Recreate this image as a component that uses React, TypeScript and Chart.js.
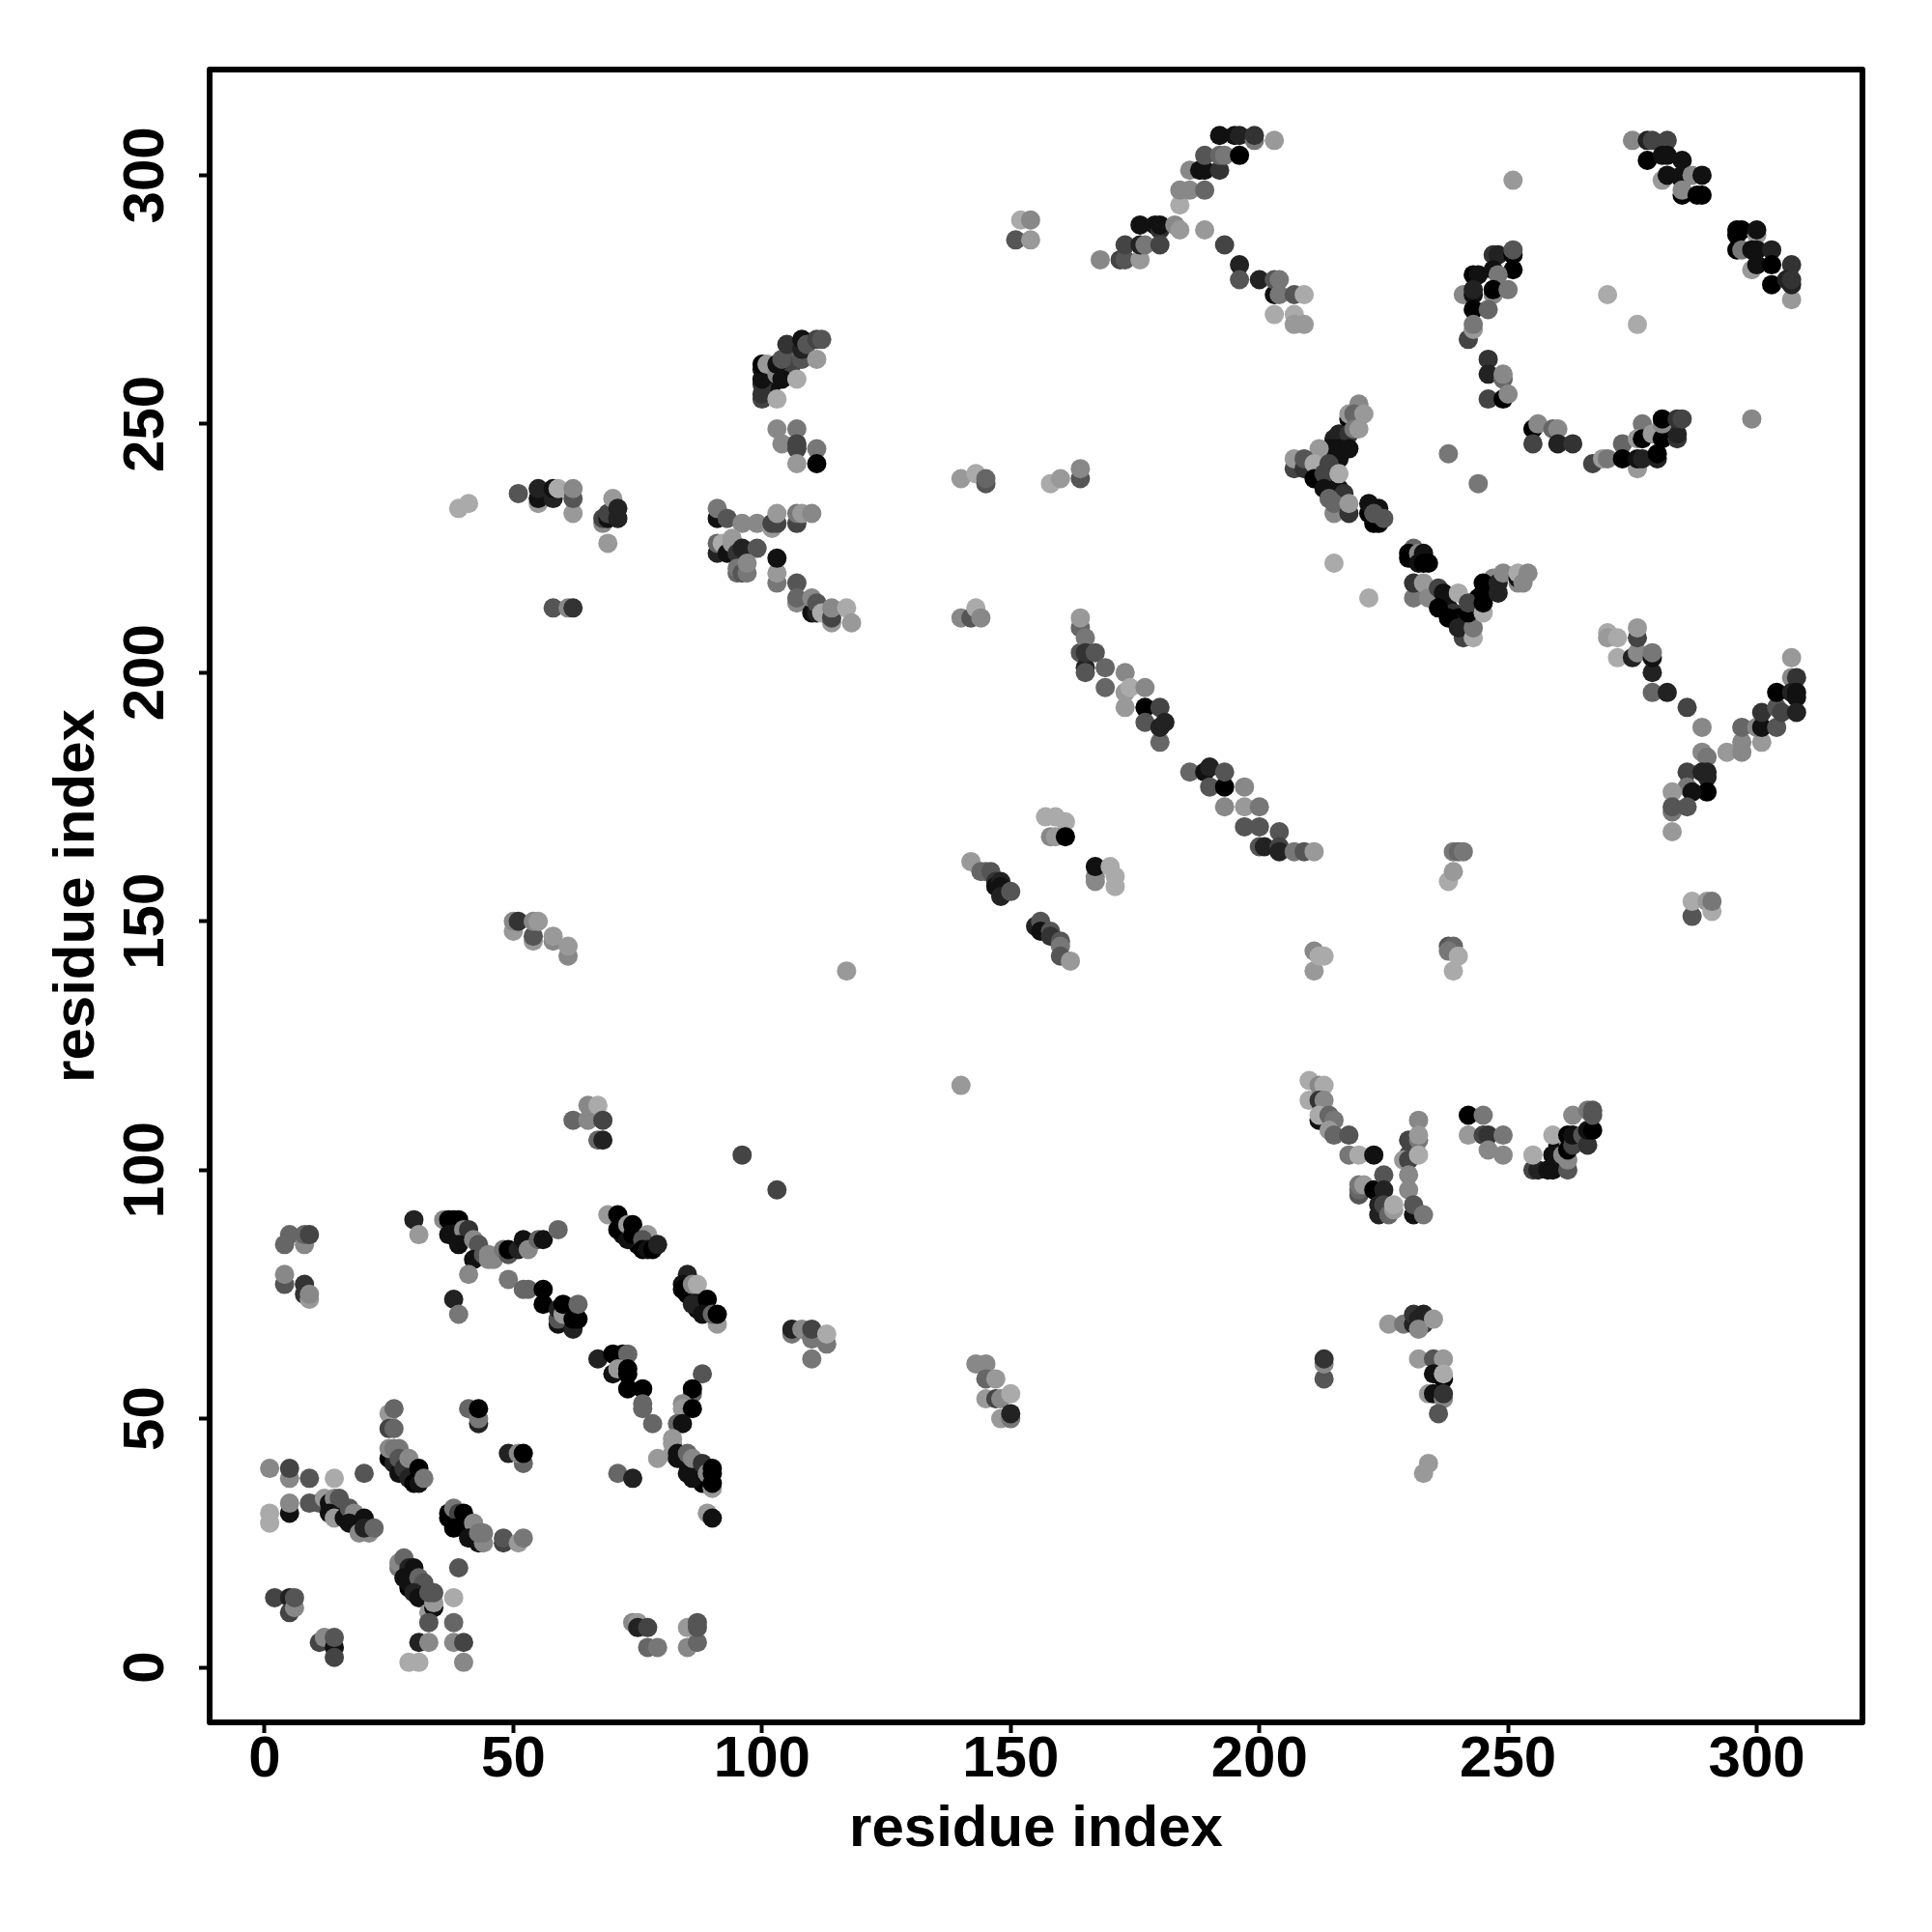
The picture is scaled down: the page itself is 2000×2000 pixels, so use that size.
import React, { useEffect, useRef } from "react";
import { Chart, registerables } from "chart.js";

Chart.register(...registerables);

// Each contact: [residue x, residue y, shade step 0 (black) .. 10 (light grey)]
type Contact = [number, number, number];

const tickValues = [0, 50, 100, 150, 200, 250, 300];

const denseCores: Contact[] = [
  [100,261,1],[101,259,0],[102,258,1],[102,260,0],[104,261,2],[105,262,2],[106,264,1],[106,262,4],[107,265,5],[108,264,6],
  [238,213,1],[239,212,3],[240,211,0],[241,210,1],[243,213,1],[244,215,0],[246,217,1],[247,219,8],
  [212,241,1],[213,239,0],[214,238,1],[215,237,1],[216,243,1],[217,246,1],[215,247,2],
  [260,101,9],[261,102,1],[260,105,1],[262,106,8],
  [85,41,1],[86,40,1],[87,39,0],[88,39,1],[88,37,0],
  [39,29,1],[40,28,1],[42,27,0],
  [85,75,0],[87,74,1],[88,73,1],[87,72,0],
  [15,32,0],[16,31,1],[18,29,0],[19,29,1],
  [28,19,0],[29,16,0],[30,16,1],[31,15,0],[32,14,1],
  [26,42,0],[27,41,1],[28,39,0],[30,38,0],
  [72,87,1],[75,85,0],[76,85,1],
];

const lowerLeftA: Contact[] = [
  [1,40,8],[5,38,8],[5,40,4],[9,38,5],[14,38,10],[20,39,5],[1,29,10],[1,31,10],[5,31,1],[5,33,8],[9,33,5],[11,33,5],
  [12,34,9],[13,33,1],[14,34,8],[15,34,5],[13,31,1],[14,30,9],[16,30,1],[17,32,5],[18,31,8],[17,29,1],[19,27,8],[21,27,8],[20,30,1],[20,28,2],[22,28,6],
  [2,14,4],[5,14,2],[5,11,4],[6,12,8],[6,14,5],[11,5,4],[12,6,8],[14,4,1],[14,6,5],[14,2,4],
  [25,51,9],[26,52,6],[25,48,4],[26,48,6],[25,42,0],[26,41,2],[27,39,1],[25,44,8],[26,44,7],[27,44,7],[27,42,5],[28,40,3],[29,38,2],[30,37,0],[31,37,1],[29,42,8],[31,40,0],[32,38,7],
  [41,52,6],[43,49,2],[43,50,7],[43,52,0],[49,43,2],[52,41,6],[51,43,8],[52,43,0],
  [37,30,0],[37,31,0],[38,32,7],[39,31,4],[38,28,0],[40,31,0],[41,29,0],[42,29,8],[41,26,1],[43,25,1],[44,25,8],[43,27,7],[44,27,7],[48,25,4],[48,26,5],[51,25,9],[52,26,7],
];

const lowerLeftB: Contact[] = [
  [27,20,7],[27,21,8],[28,22,6],[29,20,2],[30,20,1],[28,18,1],[29,17,1],[31,18,6],[32,17,5],[30,15,2],[31,14,1],[33,11,9],[34,12,1],[34,13,9],[33,15,5],[34,15,5],[33,9,5],
  [38,14,10],[38,9,6],[38,5,8],[40,5,4],[40,1,8],[31,5,2],[33,5,8],[29,1,10],[31,1,10],[39,20,5],
  [30,90,2],[31,87,9],[36,90,8],[37,90,0],[38,90,0],[39,90,0],[37,87,1],[38,87,1],[40,88,8],[41,88,3],[39,85,1],[42,86,8],[43,85,5],[42,82,1],[44,83,5],[46,82,8],[45,83,8],[45,82,8],
  [41,79,8],[49,78,7],[52,76,6],[53,76,6],[56,76,0],[56,73,0],[59,69,1],[59,70,5],[59,72,2],[60,71,9],[60,73,0],[62,68,2],[62,70,0],[63,70,0],[63,73,6],
  [48,84,7],[49,83,5],[49,84,0],[51,84,2],[52,86,1],[53,84,8],[55,86,6],[56,86,1],[59,88,6],[38,74,2],[39,71,7],
];

const middleLeft: Contact[] = [
  [69,91,9],[71,91,0],[71,88,0],[73,86,1],[73,89,9],[74,89,0],[74,87,0],[77,87,9],[76,86,5],[76,84,0],[77,84,1],[78,84,0],[79,85,2],
  [85,79,2],[84,77,1],[84,76,0],[86,77,8],[87,77,10],[86,73,2],[89,74,0],[88,71,1],[91,69,9],[90,71,6],[91,71,0],
  [67,62,2],[70,63,0],[72,63,0],[73,63,6],[70,59,1],[71,60,9],[73,59,0],[73,60,0],[73,56,0],[76,56,0],[76,53,6],[76,52,6],[78,49,6],
  [88,59,5],[86,55,6],[86,56,0],[84,53,8],[84,52,9],[86,52,0],[83,49,6],[84,49,1],[82,46,9],[82,45,9],[82,43,9],[83,43,1],[83,42,1],[85,43,6],[85,39,1],[86,42,8],[86,38,1],[88,41,3],[89,39,8],[90,36,9],[90,37,0],[90,39,0],[90,40,0],
  [89,31,9],[90,30,1],[79,42,9],[71,39,6],[74,38,2],
  [62,110,6],[65,110,8],[65,113,8],[67,113,10],[67,106,6],[68,106,2],[68,110,4],[96,103,4],[103,96,4],
  [106,67,7],[106,68,2],[108,68,8],[110,62,7],[110,66,7],[110,68,4],[113,65,7],[113,67,10],
  [4,85,6],[5,87,6],[8,85,8],[8,87,6],[9,87,4],[4,77,5],[4,79,8],[8,75,3],[8,77,3],[9,74,9],[9,75,8],
  [74,9,8],[75,9,9],[75,8,2],[77,8,4],[77,4,6],[79,4,7],[85,4,8],[87,5,6],[85,8,9],[87,8,5],[87,9,5],[117,140,9],[140,117,9],
];

const upperLeft: Contact[] = [
  [100,255,4],[100,256,3],[100,258,3],[100,259,1],[103,255,10],[100,262,0],[101,262,9],[103,260,8],[103,262,1],[104,259,1],[104,263,5],[105,266,3],[107,259,10],[108,263,5],[108,265,2],[108,267,1],[109,266,5],[111,263,9],[111,267,4],[112,267,5],
  [103,249,8],[107,249,7],[104,246,8],[107,245,4],[107,246,4],[111,245,7],[107,242,9],[111,242,0],
  [91,231,1],[91,233,7],[93,231,5],[96,230,8],[99,230,8],[102,229,9],[102,230,4],[103,230,4],[103,232,9],[107,230,4],[107,232,7],[108,232,9],[110,232,8],
  [91,224,2],[91,226,6],[92,226,10],[93,224,1],[94,227,9],[94,226,9],[95,224,3],[95,220,6],[95,221,7],[96,220,5],[97,220,7],[96,225,2],[99,225,5],[97,222,8],
  [103,218,7],[103,220,9],[103,223,1],[107,218,5],[107,214,8],[107,215,6],[110,212,1],[110,215,8],[111,212,2],[111,214,5],[112,212,10],[114,210,9],[114,211,4],[114,213,8],[117,213,10],[118,210,9],
  [39,233,10],[41,234,10],[51,236,5],[55,234,9],[55,235,1],[55,237,2],[58,235,2],[58,237,1],[59,237,10],[62,232,9],[62,235,5],[62,237,8],
  [69,226,9],[68,230,8],[68,231,4],[69,231,1],[69,232,4],[70,235,9],[71,231,2],[71,233,2],[58,213,5],[61,213,8],[62,213,3],
  [50,148,9],[50,150,8],[51,150,3],[54,146,9],[54,147,5],[54,150,8],[55,150,9],[58,146,8],[58,147,9],[61,143,8],[61,145,9],
  [140,239,9],[140,211,8],
];

const upperMiddle: Contact[] = [
  [143,240,10],[145,238,5],[145,239,6],[158,238,10],[160,239,9],[164,239,5],[164,241,8],[142,211,5],[143,213,10],[144,211,8],
  [151,287,5],[152,291,10],[154,287,9],[154,291,8],
  [168,283,8],[172,283,4],[173,283,5],[176,283,9],[173,286,4],[176,286,2],[176,290,1],[177,286,7],[179,290,1],[180,289,3],[180,290,1],[180,286,4],[183,290,8],[184,289,9],[189,289,9],
  [193,286,4],[196,282,2],[196,279,5],[200,279,2],[203,276,1],[203,279,5],[204,279,7],[204,276,7],[203,272,10],[207,276,5],[209,276,10],[207,272,10],[207,270,9],[209,270,9],
  [184,294,10],[184,297,8],[186,297,8],[189,297,6],[186,301,8],[188,301,1],[189,301,1],[192,301,3],[189,304,5],[192,304,6],[193,304,7],[192,308,1],[195,308,1],[196,308,2],[196,304,0],[199,307,7],[199,308,3],[203,307,9],
];

const topRight: Contact[] = [
  [251,299,9],[275,307,8],[278,307,2],[279,307,4],[282,307,4],[278,303,0],[281,299,9],[281,304,1],[282,304,1],[285,303,1],[282,300,1],[285,299,1],[285,300,1],[287,300,8],[289,300,1],[285,296,0],[285,297,8],[288,296,0],[289,296,0],
  [296,288,0],[296,289,0],[297,289,0],[300,288,9],[300,289,1],[296,285,0],[297,285,7],[299,285,1],[300,285,1],[303,285,2],[299,281,9],[300,282,1],[303,282,0],[307,282,3],[303,278,0],[307,275,9],[306,279,2],[307,278,2],[307,279,3],
  [247,284,3],[248,284,2],[251,284,0],[251,285,5],[251,281,0],[243,280,0],[244,280,1],[247,281,1],[248,280,7],[241,276,8],[243,276,1],[243,277,2],[247,276,8],[247,277,0],[250,277,7],[243,273,0],[246,273,6],[242,267,4],[243,269,9],[243,270,7],
  [246,263,3],[246,260,2],[249,259,6],[249,260,8],[246,255,4],[249,255,0],[250,256,8],
  [255,249,0],[256,250,8],[255,246,4],[259,249,6],[260,249,8],[260,246,2],[263,246,3],[267,242,4],[269,243,9],[270,243,7],
  [273,246,6],[277,250,7],[276,241,9],[273,243,0],[276,243,1],[277,243,2],[280,243,2],[280,244,0],[276,247,9],[277,247,0],[279,248,9],[281,247,0],[284,247,3],[284,248,2],[281,250,8],[281,251,0],[284,251,3],[285,251,4],
  [270,276,10],[276,270,10],[299,251,8],
];

const centreRight: Contact[] = [
  [218,251,0],[220,254,8],[218,252,9],[219,252,6],[221,252,9],[216,248,2],[218,248,3],[219,249,7],[220,249,9],[214,245,1],[215,245,1],[216,245,1],[218,245,1],[212,245,9],
  [207,241,4],[207,243,9],[209,241,3],[209,243,5],[211,242,10],[211,239,0],[213,240,4],[214,242,4],[213,237,1],[216,237,1],[217,236,3],[216,240,10],[214,235,6],[215,232,8],[215,234,6],[218,232,3],[218,234,9],
  [222,232,0],[222,234,1],[223,230,0],[224,230,0],[224,233,1],[223,232,5],[225,231,5],[215,222,10],[222,215,10],[238,244,7],[244,238,7],
  [231,225,6],[230,223,0],[230,224,0],[232,224,8],[233,224,1],[232,222,1],[233,222,0],[234,222,0],
  [231,215,7],[231,218,3],[233,218,9],[234,215,8],[236,217,4],[237,216,1],[236,213,0],[238,211,0],[240,216,10],[241,207,4],[240,209,2],[243,207,10],[243,209,7],[242,212,0],[242,214,4],[245,212,10],[245,214,0],[245,216,0],[245,218,0],[248,216,2],[248,218,2],[249,220,8],[252,218,8],[252,219,1],[252,220,10],[253,218,8],[254,220,8],
];

const centreDiagonal: Contact[] = [
  [164,204,5],[164,209,6],[164,211,9],[165,207,7],[165,201,2],[165,200,5],[165,204,3],[167,204,5],[169,201,6],[169,197,6],[173,200,8],[173,193,9],[173,196,9],[174,197,10],[177,197,8],[177,193,0],[177,190,5],[180,186,6],[180,193,4],[180,189,2],[181,190,2],
  [186,180,6],[189,180,1],[190,181,2],[190,177,5],[193,177,0],[193,180,5],[197,177,8],[193,173,8],[197,173,9],[200,173,7],[197,169,5],[200,169,5],[204,168,5],[200,165,5],[201,165,2],[204,165,4],[204,164,2],[207,164,7],[209,164,5],[211,164,9],
  [157,171,10],[159,171,10],[161,170,10],[158,167,8],[159,167,9],[161,167,0],[167,158,8],[167,159,8],[167,161,1],[170,161,10],[171,157,10],[171,159,10],
  [238,158,10],[239,160,9],[239,164,7],[240,164,6],[241,164,7],[287,151,5],[287,154,10],[290,154,9],[291,152,10],[291,154,7],
  [211,140,9],[211,144,8],[212,143,10],[213,143,10],[238,145,5],[239,145,6],[238,144,7],[239,140,10],[240,143,10],
  [142,162,9],[144,160,6],[145,160,6],[146,160,5],[147,158,3],[147,157,1],[148,158,2],[148,157,1],[148,155,2],[150,156,5],[155,149,2],[156,150,5],[156,148,1],[158,148,5],[158,147,3],[160,146,5],[160,145,7],[160,143,5],[162,142,9],
  [270,208,10],[270,207,9],[272,207,10],[272,203,10],[275,203,2],[276,204,8],[276,207,4],[276,209,9],[279,200,2],[279,203,1],[279,204,7],[279,196,6],[282,196,2],[286,193,4],[289,189,8],
  [289,184,8],[290,183,7],[294,184,9],[297,184,8],[297,186,8],[297,189,6],[301,186,9],[300,189,8],[301,189,1],[301,192,3],[304,189,5],[304,193,5],[305,192,4],[304,196,0],[307,203,9],[307,199,8],[308,199,3],[307,196,2],[308,196,1],[308,195,1],[308,192,2],
  [286,180,4],[289,180,2],[290,180,2],[290,179,2],[290,176,0],[286,177,7],[287,176,1],[283,176,9],[283,172,7],[283,173,5],[286,173,5],[283,168,9],
];

const lowerRight: Contact[] = [
  [210,114,10],[210,118,10],[212,117,8],[213,117,10],[212,114,3],[213,114,8],[212,110,1],[212,111,10],[214,111,6],[215,110,7],[214,108,9],[215,107,6],[218,107,5],[218,103,7],[220,103,10],[223,103,1],
  [220,95,5],[220,96,6],[220,97,7],[221,97,9],[223,96,0],[225,99,5],[225,96,2],[224,91,2],[224,93,2],[225,93,4],[226,91,6],[227,92,9],[227,93,10],
  [230,106,4],[230,103,4],[232,110,8],[232,106,7],[232,107,9],[229,102,9],[230,102,4],[232,103,10],[230,99,8],[230,96,8],[231,91,1],[231,93,5],[233,91,7],
  [242,111,0],[245,111,7],[242,107,9],[245,107,4],[246,107,3],[249,107,7],[246,104,8],[249,103,8],
  [255,100,4],[256,100,2],[258,100,1],[259,100,1],[255,103,10],[259,107,10],[259,103,1],[261,103,8],[262,100,5],[262,102,8],[262,104,0],[262,107,0],[263,105,4],[263,107,1],[263,111,8],[265,107,5],[266,105,3],[266,108,1],[267,108,0],[266,112,7],[267,111,5],[267,112,5],
  [226,69,9],[229,69,7],[231,69,2],[231,71,3],[232,70,2],[233,69,3],[233,71,2],[232,68,8],[235,70,9],
  [232,62,9],[235,62,5],[237,62,9],[235,59,1],[237,58,0],[237,59,10],[234,55,9],[235,55,1],[237,54,8],[237,55,3],[236,51,5],[234,41,9],[233,39,9],
  [213,58,5],[213,61,8],[213,62,3],
  [143,61,8],[145,61,8],[145,58,6],[147,58,9],[145,54,9],[147,54,4],[148,54,8],[150,55,10],[148,50,9],[150,50,7],[150,51,2],
];

const contacts: Contact[] = [
  ...denseCores, ...lowerLeftA, ...lowerLeftB, ...middleLeft, ...upperLeft,
  ...upperMiddle, ...topRight, ...centreRight, ...centreDiagonal, ...lowerRight,
];

const framePlugin = {
  id: "frame",
  afterDraw(chart: Chart) {
    const { ctx, chartArea: a } = chart;
    ctx.save();
    ctx.strokeStyle = "#000";
    ctx.lineWidth = 6;
    ctx.lineJoin = "round";
    ctx.strokeRect(a.left, a.top, a.right - a.left, a.bottom - a.top);
    ctx.restore();
  },
};

const labelFont = { family: "'Liberation Sans', Arial, sans-serif", weight: "bold" as const, size: 60 };

export default function App() {
  const ref = useRef<HTMLCanvasElement>(null);
  useEffect(() => {
    document.body.style.margin = "0";
    const chart = new Chart(ref.current!, {
      type: "scatter",
      data: {
        datasets: [{
          data: contacts.map(([x, y]) => ({ x, y })),
          backgroundColor: contacts.map(([, , s]) => `rgb(${s * 17},${s * 17},${s * 17})`),
          borderWidth: 0,
          pointRadius: 10,
          pointHoverRadius: 10,
        }],
      },
      plugins: [framePlugin],
      options: {
        animation: false,
        responsive: false,
        devicePixelRatio: 1,
        layout: { padding: { top: 72, right: 72, left: 0, bottom: 0 } },
        plugins: { legend: { display: false }, tooltip: { enabled: false } },
        scales: {
          x: {
            type: "linear",
            min: -11.07,
            max: 321.25,
            afterBuildTicks: (s: any) => { s.ticks = tickValues.map((value) => ({ value })); },
            afterFit: (s: any) => { s.height = 217; },
            grid: { drawOnChartArea: false, drawTicks: true, tickLength: 11, tickWidth: 4, color: "#000" },
            border: { display: false },
            ticks: { color: "#000", font: labelFont, padding: -8, autoSkip: false, maxRotation: 0, minRotation: 0 },
            title: { display: true, text: "residue index", color: "#000", font: labelFont, padding: { top: 0, bottom: 70 } },
          },
          y: {
            type: "linear",
            min: -11.07,
            max: 321.25,
            afterBuildTicks: (s: any) => { s.ticks = tickValues.map((value) => ({ value })); },
            afterFit: (s: any) => { s.width = 217; },
            grid: { drawOnChartArea: false, drawTicks: true, tickLength: 11, tickWidth: 4, color: "#000" },
            border: { display: false },
            ticks: { color: "#000", font: labelFont, padding: 3, autoSkip: false, minRotation: 90, maxRotation: 90, crossAlign: "center" },
            title: { display: true, text: "residue index", color: "#000", font: labelFont, padding: { top: 44, bottom: 0 } },
          },
        },
      } as any,
    });
    return () => chart.destroy();
  }, []);
  return (
    <div style={{ position: "absolute", left: 0, top: 0, width: 2000, height: 2000 }}>
      <canvas ref={ref} width={2000} height={2000} style={{ display: "block" }} />
    </div>
  );
}
